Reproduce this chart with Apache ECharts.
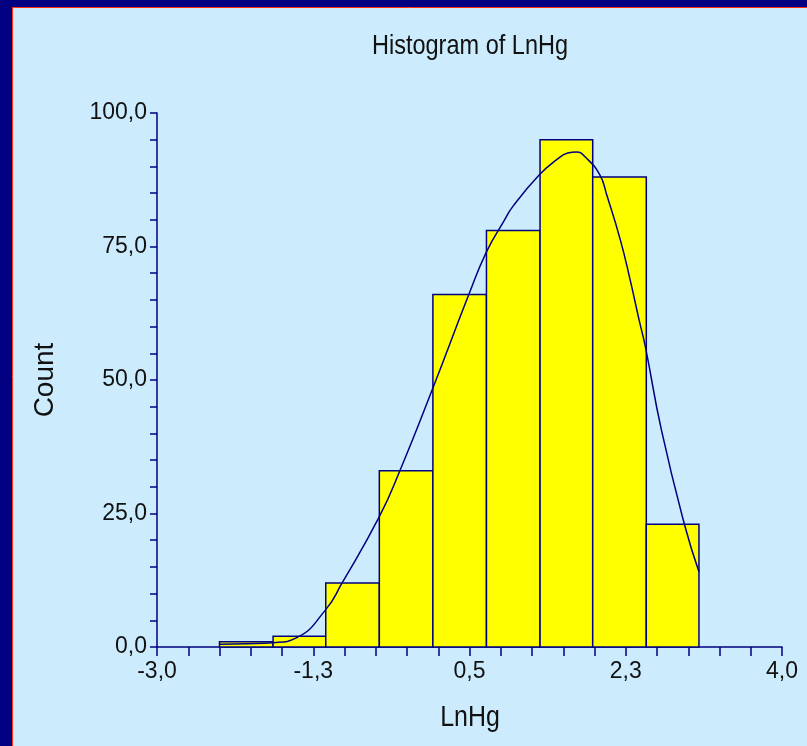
<!DOCTYPE html>
<html>
<head>
<meta charset="utf-8">
<title>Histogram of LnHg</title>
<script src="https://cdn.jsdelivr.net/npm/echarts@6/dist/echarts.min.js"></script>
<style>
  html, body { margin: 0; padding: 0; background: #ccecfe; }
  #main { width: 807px; height: 746px; }
</style>
</head>
<body>
<div id="main"></div>
<script>
// bin edges and counts
var binEdges = [-2.30, -1.70, -1.11, -0.51, 0.09, 0.69, 1.29, 1.88, 2.48, 3.07];
var binCounts = [1, 2, 12, 33, 66, 78, 95, 88, 23];

// density curve, sampled by eye along the drawn line
var curveX = [-2.30, -2.00, -1.70, -1.44, -1.11, -0.93, -0.51, -0.28, 0.09, 0.49, 0.69, 0.88, 0.99, 1.28, 1.48, 1.60, 1.70, 1.80, 1.96, 2.04, 2.19, 2.30, 2.40, 2.47, 2.65, 2.91, 3.07];
var curveY = [0.5, 0.6, 0.8, 1.7, 7.0, 11.9, 24.4, 33.0, 48.5, 65.9, 74.0, 79.6, 82.6, 88.4, 91.3, 92.5, 92.7, 91.7, 88.4, 84.5, 76.2, 68.7, 61.2, 56.2, 40.6, 22.8, 14.1];

var xTicks = [-3.0, -1.25, 0.5, 2.25, 4.0];
var xTickLabels = ['-3,0', '-1,3', '0,5', '2,3', '4,0'];
var yTickLabels = ['0,0', '25,0', '50,0', '75,0', '100,0'];

var navy = '#000080';
var sans = '"Liberation Sans", Arial, sans-serif';

var bars = [];
for (var i = 0; i < binCounts.length; i++) {
    bars.push([binEdges[i], binEdges[i + 1], binCounts[i]]);
}
var curve = [];
for (var j = 0; j < curveX.length; j++) {
    curve.push([curveX[j], curveY[j]]);
}

var dom = document.getElementById('main');
var myChart = echarts.init(dom);
var option = {
    backgroundColor: '#ccecfe',
    animation: false,
    grid: {
        left: 157,
        right: 25,
        top: 113,
        bottom: 99,
        containLabel: false,
        outerBoundsMode: 'none'
    },
    xAxis: {
        type: 'value',
        min: -3,
        max: 4,
        interval: 1.75,
        splitLine: { show: false },
        axisLine: { show: true, lineStyle: { color: navy, width: 1.5 } },
        axisTick: { show: true, length: 9, lineStyle: { color: navy, width: 1.5 } },
        minorTick: { show: true, splitNumber: 5, length: 9, lineStyle: { color: navy, width: 1.5 } },
        axisLabel: {
            margin: 13,
            fontFamily: sans,
            fontSize: 23,
            color: '#111',
            formatter: function (v) {
                for (var k = 0; k < xTicks.length; k++) {
                    if (Math.abs(xTicks[k] - v) < 1e-6) return xTickLabels[k];
                }
                return '';
            }
        }
    },
    yAxis: {
        type: 'value',
        min: 0,
        max: 100,
        interval: 25,
        name: 'Count',
        nameLocation: 'middle',
        nameGap: 98,
        nameTextStyle: { fontFamily: sans, fontSize: 28, color: '#111' },
        splitLine: { show: false },
        axisLine: { show: true, onZero: false, lineStyle: { color: navy, width: 1.5 } },
        axisTick: { show: true, length: 7, lineStyle: { color: navy, width: 1.5 } },
        minorTick: { show: true, splitNumber: 5, length: 7, lineStyle: { color: navy, width: 1.5 } },
        axisLabel: {
            margin: 10,
            fontFamily: sans,
            fontSize: 23,
            color: '#111',
            formatter: function (v) {
                return yTickLabels[Math.round(v / 25)];
            }
        }
    },
    graphic: [
        { type: 'rect', shape: { x: 0, y: 0, width: 807, height: 7 }, style: { fill: navy }, silent: true },
        { type: 'rect', shape: { x: 0, y: 0, width: 12, height: 746 }, style: { fill: navy }, silent: true },
        { type: 'line', shape: { x1: 12, y1: 7.5, x2: 807, y2: 7.5 }, style: { stroke: '#ff3010', lineWidth: 1 }, silent: true },
        { type: 'line', shape: { x1: 12.5, y1: 7, x2: 12.5, y2: 746 }, style: { stroke: '#ff3010', lineWidth: 1 }, silent: true },
        // condensed title and x axis name, like the narrow face in the original
        {
            type: 'text', x: 470, y: 46, scaleX: 0.84, silent: true,
            style: { text: 'Histogram of LnHg', font: '28px ' + sans, fill: '#111', align: 'center', verticalAlign: 'middle' }
        },
        {
            type: 'text', x: 470, y: 718, scaleX: 0.86, silent: true,
            style: { text: 'LnHg', font: '29px ' + sans, fill: '#111', align: 'center', verticalAlign: 'middle' }
        }
    ],
    series: [
        {
            name: 'Count',
            type: 'custom',
            data: bars,
            encode: { x: [0, 1], y: 2 },
            renderItem: function (params, api) {
                var p0 = api.coord([api.value(0), 0]);
                var p1 = api.coord([api.value(1), api.value(2)]);
                return {
                    type: 'rect',
                    shape: { x: p0[0], y: p1[1], width: p1[0] - p0[0], height: p0[1] - p1[1] },
                    style: { fill: '#ffff00', stroke: navy, lineWidth: 1.5 }
                };
            },
            z: 2
        },
        {
            name: 'Density',
            type: 'line',
            data: curve,
            smooth: 0.5,
            showSymbol: false,
            symbol: 'none',
            lineStyle: { color: navy, width: 1.5 },
            z: 3
        }
    ]
};
myChart.setOption(option);
</script>
</body>
</html>
